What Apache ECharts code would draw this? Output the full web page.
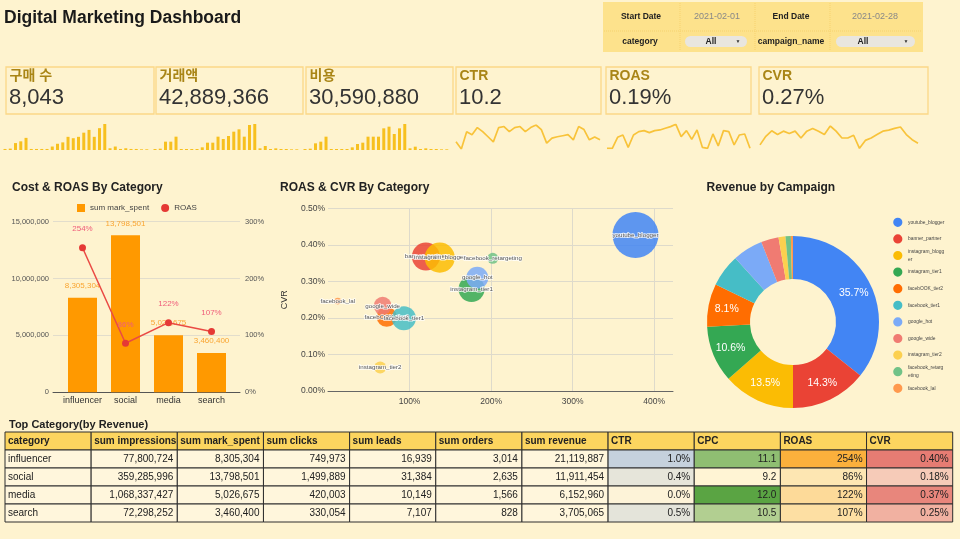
<!DOCTYPE html>
<html><head><meta charset="utf-8">
<script src="https://cdn.jsdelivr.net/npm/echarts@6/dist/echarts.min.js"></script>
<style>html,body{margin:0;padding:0;background:#fef3cf;}#c{width:960px;height:539px;}</style>
</head><body><div id="c"></div>
<script>
// ---------------- DATA ----------------
const kpiLabels = ['구매 수', '거래액', '비용', 'CTR', 'ROAS', 'CVR'];
const kpiValues = ['8,043', '42,889,366', '30,590,880', '10.2', '0.19%', '0.27%'];

// daily trends (Feb 1 - Feb 28)
const dailyOrders  = [42, 56, 280, 350, 490, 42, 42, 42, 42, 140, 252, 308, 532, 476, 532, 700, 812, 532, 882, 1050, 70, 140, 42, 70, 42, 42, 28, 28];
const dailyRevenue = [207000, 276000, 1727000, 1727000, 2763000, 207000, 207000, 207000, 207000, 553000, 1519000, 1519000, 2763000, 2279000, 2901000, 3799000, 4282000, 2763000, 5180000, 5387000, 345000, 829000, 207000, 345000, 207000, 207000, 138000, 138000];
const dailyCost    = [145500, 194000, 970000, 1212500, 1940000, 145500, 145500, 145500, 145500, 388000, 873000, 1067000, 1940000, 1940000, 1940000, 3152500, 3395000, 2328000, 3152500, 3783000, 242500, 485000, 145500, 242500, 145500, 145500, 97000, 97000];
const dailyCtr     = [8, 1, 18, 15, 22, 18, 13, 8, 22, 23, 18, 22, 23, 18, 22, 24.5, 20, 6.7, 11.7, 13, 14, 15, 10, 23, 20, 10, 12.7, 10];
const dailyRoas    = [5, 5, 38, 45, 8, 45, 55, 58, 52, 58, 60, 65, 70, 77, 40, 58, 32, 60, 8, 5, 48, 12, 58, 55, 15, 45, 48, 5];
const dailyCvr     = [15, 40, 56, 45, 55, 48, 55, 35, 55, 63, 55, 45, 70, 55, 35, 35, 43, 5, 28, 35, 45, 55, 58, 63, 67, 45, 30, 20];

// by category
const categories  = ['influencer', 'social', 'media', 'search'];
const impressions = [77800724, 359285996, 1068337427, 72298252];
const markSpent   = [8305304, 13798501, 5026675, 3460400];
const clicks      = [749973, 1499889, 420003, 330054];
const leads       = [16939, 31384, 10149, 7107];
const orders      = [3014, 2635, 1566, 828];
const revenue     = [21119887, 11911454, 6152960, 3705065];

// by campaign
const campaigns       = ['youtube_blogger', 'banner_partner', 'instagram_blogger', 'instagram_tier1', 'facebOOK_tier2', 'facebook_tier1', 'google_hot', 'google_wide', 'instagram_tier2', 'facebook_retargeting', 'facebook_lal'];
const campaignRevenue = [15311504, 6133179, 5790064, 4546273, 3474039, 2616251, 2444694, 1415349, 557562, 428894, 171557];
const campaignRoas    = [3.77, 1.20, 1.37, 1.76, 0.72, 0.93, 1.83, 0.67, 0.64, 2.02, 0.12];
const campaignCvr     = [0.427, 0.368, 0.365, 0.279, 0.203, 0.199, 0.310, 0.233, 0.064, 0.363, 0.246];
const campaignOrders  = [1363, 749, 818, 681, 477, 613, 545, 409, 204, 170, 20];

const tableHeaders = ['category', 'sum impressions', 'sum mark_spent', 'sum clicks', 'sum leads', 'sum orders', 'sum revenue', 'CTR', 'CPC', 'ROAS', 'CVR'];

// ---------------- STYLE ----------------
const FF = '"Liberation Sans", "Noto Sans CJK KR", Arial, sans-serif';
const BG = '#fef3cf';
const campaignColors = ['#4285f4', '#ea4335', '#fbbc04', '#34a853', '#ff6d01', '#46bdc6', '#7baaf7', '#f07b72', '#fcd04f', '#71c287', '#ff994d'];
const fmt = n => n.toLocaleString('en-US');

function hex(c){return [parseInt(c.slice(1,3),16),parseInt(c.slice(3,5),16),parseInt(c.slice(5,7),16)];}
function lerp(a,b,t){const A=hex(a),B=hex(b);return 'rgb('+A.map((v,i)=>Math.round(v+(B[i]-v)*t)).join(',')+')';}
function scaleColor(arr,i,c0,c1){const mn=Math.min(...arr),mx=Math.max(...arr);return lerp(c0,c1,(arr[i]-mn)/(mx-mn));}

// ---------------- GRAPHIC (texts / panels) ----------------
const G = [];
const txt = (x,y,text,font,fill,align,va,extra) => ({type:'text', x:x, y:y, silent:true, style:Object.assign({text:text, font:font, fill:fill, align:align||'left', verticalAlign:va||'middle'}, extra||{})});
G.push(txt(4, 18, 'Digital Marketing Dashboard', 'bold 17.5px ' + FF, '#1a1a1a'));

// filter panel
G.push({type:'rect', shape:{x:603, y:2, width:320, height:50}, style:{fill:'#fde28c'}});
[680, 755, 830].forEach(x => G.push({type:'line', shape:{x1:x, y1:3, x2:x, y2:51}, style:{stroke:'#f6d26f', lineWidth:1, lineDash:[1,1]}}));
G.push({type:'line', shape:{x1:604, y1:31, x2:922, y2:31}, style:{stroke:'#f6d26f', lineWidth:1, lineDash:[1,1]}});
G.push(txt(641, 17, 'Start Date', 'bold 8.5px ' + FF, '#222', 'center'));
G.push(txt(717, 17, '2021-02-01', '9px ' + FF, '#888', 'center'));
G.push(txt(791, 17, 'End Date', 'bold 8.5px ' + FF, '#222', 'center'));
G.push(txt(875, 17, '2021-02-28', '9px ' + FF, '#888', 'center'));
G.push(txt(640, 42, 'category', 'bold 8.5px ' + FF, '#222', 'center'));
G.push(txt(791, 42, 'campaign_name', 'bold 8.5px ' + FF, '#222', 'center'));
G.push({type:'rect', shape:{x:685, y:36, width:62, height:11, r:5.5}, style:{fill:'#e9e6df'}});
G.push(txt(711, 42, 'All', 'bold 8.5px ' + FF, '#222', 'center'));
G.push(txt(738, 41.5, '▼', '5px ' + FF, '#333', 'center'));
G.push({type:'rect', shape:{x:836, y:36, width:79, height:11, r:5.5}, style:{fill:'#e9e6df'}});
G.push(txt(863, 42, 'All', 'bold 8.5px ' + FF, '#222', 'center'));
G.push(txt(906, 41.5, '▼', '5px ' + FF, '#333', 'center'));

// KPI cards
const cardX = [6, 156, 306, 456, 606, 759];
const cardW = [148, 147, 147, 145, 145, 169];
kpiLabels.forEach((lab, i) => {
  G.push({type:'rect', shape:{x:cardX[i], y:67, width:cardW[i], height:47}, style:{fill:'none', stroke:'#fbd888', lineWidth:1.3}});
  G.push(txt(cardX[i] + 3.5, 76.5, lab, 'bold 14px ' + FF, '#a98516'));
  G.push(txt(cardX[i] + 3, 98, kpiValues[i], '22px ' + FF, '#333'));
});

// section titles
G.push(txt(12, 187.5, 'Cost & ROAS By Category', 'bold 12px ' + FF, '#222'));
G.push(txt(280, 187.5, 'ROAS & CVR By Category', 'bold 12px ' + FF, '#222'));
G.push(txt(706.5, 187.5, 'Revenue by Campaign', 'bold 12px ' + FF, '#222'));
G.push(txt(9, 424.5, 'Top Category(by Revenue)', 'bold 11px ' + FF, '#222'));

// pie legend (vertical list with uniform row pitch)
campaigns.forEach((n, i) => {
  const y = 222.3 + i * 16.6;
  G.push({type:'circle', silent:true, shape:{cx:897.8, cy:y, r:4.6}, style:{fill:campaignColors[i]}});
  const label = n.length > 15 ? n.slice(0, 15) + '\n' + n.slice(15) : n;
  G.push(txt(908, y, label, '4.9px ' + FF, '#444', 'left', 'middle', {lineHeight:8.5}));
});

// ---------------- TABLE CELLS ----------------
const HEADER = '#fcd55f', PLAIN = '#fff6dc';
const ctrArr = clicks.map((c,i) => c / impressions[i] * 100);
const cpcArr = markSpent.map((s,i) => s / clicks[i]);
const roasArr = revenue.map((r,i) => r / markSpent[i]);
const cvrArr = orders.map((o,i) => o / clicks[i] * 100);
const cells = [];
tableHeaders.forEach((h,c) => cells.push({value:[c,0], text:h, fill:HEADER, align:'left', bold:true}));
categories.forEach((cat,i) => {
  const r = i + 1;
  cells.push({value:[0,r], text:cat, fill:PLAIN, align:'left'});
  [impressions, markSpent, clicks, leads, orders, revenue].forEach((arr,k) => cells.push({value:[k+1,r], text:fmt(arr[i]), fill:PLAIN, align:'right'}));
  cells.push({value:[7,r], text:ctrArr[i].toFixed(1)+'%', fill:scaleColor(ctrArr,i,'#fdf3d8','#c5d1dd'), align:'right'});
  cells.push({value:[8,r], text:cpcArr[i].toFixed(1), fill:scaleColor(cpcArr,i,'#fff4d4','#5aa443'), align:'right'});
  cells.push({value:[9,r], text:Math.round(roasArr[i]*100)+'%', fill:scaleColor(roasArr,i,'#fde6b2','#fbb03c'), align:'right'});
  cells.push({value:[10,r], text:cvrArr[i].toFixed(2)+'%', fill:scaleColor(cvrArr,i,'#f6cbb8','#e67c73'), align:'right'});
});

// ---------------- AXES / GRIDS ----------------
const grids = [
  {left:2.4, top:124, width:147, height:26},
  {left:152.4, top:124, width:147, height:26},
  {left:302.4, top:124, width:147, height:26},
  {left:456, top:125, width:144, height:24},
  {left:607, top:124.3, width:143, height:24},
  {left:760, top:126, width:158, height:22.3},
  {left:53, top:221.7, width:187, height:170.6},
  {left:61, top:221.7, width:172, height:170.6},
  {left:328, top:208.3, width:345, height:182.7},
  {left:5, top:432, width:947.7, height:90}
].map(g => Object.assign({outerBoundsMode:'none', containLabel:false}, g));

const days = dailyOrders.map((_,i) => i + 1);
const hidden = {show:false};
const xAxes = [], yAxes = [];
for (let i = 0; i < 6; i++) {
  xAxes.push({type:'category', gridIndex:i, data:days, show:false, boundaryGap: i < 3});
  yAxes.push({type:'value', gridIndex:i, show:false, min: i < 3 ? 0 : 'dataMin', max:'dataMax', splitLine:hidden});
}
// x6 / y6,y7 : cost background grid
xAxes.push({type:'category', gridIndex:6, data:categories, axisLine:{lineStyle:{color:'#555', width:1}}, axisTick:hidden, axisLabel:hidden, splitLine:hidden});
yAxes.push({type:'value', gridIndex:6, min:0, max:15000000, interval:5000000, axisLine:hidden, axisTick:hidden,
  axisLabel:{fontSize:7.5, color:'#555', fontFamily:FF, margin:4, formatter:v => fmt(v)}, splitLine:{lineStyle:{color:'#e2ddcc', width:1}}});
yAxes.push({type:'value', gridIndex:6, position:'right', min:0, max:3, interval:1, axisLine:hidden, axisTick:hidden,
  axisLabel:{fontSize:7.5, color:'#555', fontFamily:FF, margin:5, formatter:v => Math.round(v*100)+'%'}, splitLine:hidden});
// x7 / y8,y9 : cost series grid
xAxes.push({type:'category', gridIndex:7, data:categories, axisLine:hidden, axisTick:hidden,
  axisLabel:{interval:0, hideOverlap:false, fontSize:9, color:'#333', fontFamily:FF, margin:4}, splitLine:hidden});
yAxes.push({type:'value', gridIndex:7, min:0, max:15000000, show:false, splitLine:hidden});
yAxes.push({type:'value', gridIndex:7, min:0, max:3, show:false, splitLine:hidden});
// x8 / y10 : bubble grid
const gl = '#dedacb';
xAxes.push({type:'value', gridIndex:8, min:0, max:4.23, interval:1, axisLine:{lineStyle:{color:'#666'}}, axisTick:hidden,
  axisLabel:{fontSize:8.5, color:'#444', fontFamily:FF, margin:6, showMaxLabel:false, formatter:v => (v > 0 && Math.abs(v - Math.round(v)) < 1e-9) ? Math.round(v*100)+'%' : ''},
  splitLine:{lineStyle:{color:['rgba(0,0,0,0)', gl, gl, gl, gl, 'rgba(0,0,0,0)']}}});
yAxes.push({type:'value', gridIndex:8, min:0, max:0.5, interval:0.1, axisLine:hidden, axisTick:hidden,
  name:'CVR', nameLocation:'middle', nameGap:39, nameTextStyle:{fontSize:9, color:'#333', fontFamily:FF},
  axisLabel:{fontSize:8.5, color:'#444', fontFamily:FF, margin:3, formatter:v => v.toFixed(2)+'%'}, splitLine:{lineStyle:{color:gl}}});
// x9 / y11 : table grid
xAxes.push({type:'category', gridIndex:9, data:tableHeaders.map((_,i)=>i), show:false});
yAxes.push({type:'category', gridIndex:9, data:[0,1,2,3,4], inverse:true, show:false});

// ---------------- SERIES ----------------
const BAR_GOLD = '#f7c01f', LINE_GOLD = '#f8c33a';
const series = [];
[dailyOrders, dailyRevenue, dailyCost].forEach((d,i) => series.push({type:'bar', xAxisIndex:i, yAxisIndex:i, data:d, barWidth:3, itemStyle:{color:BAR_GOLD}, silent:true}));
[dailyCtr, dailyRoas, dailyCvr].forEach((d,i) => series.push({type:'line', xAxisIndex:i+3, yAxisIndex:i+3, data:d, symbol:'none', lineStyle:{color:LINE_GOLD, width:1.7}, silent:true}));

series.push({name:'sum mark_spent', type:'bar', xAxisIndex:7, yAxisIndex:8, data:markSpent, barWidth:29, itemStyle:{color:'#ff9900'},
  label:{show:true, position:'top', distance:8, fontSize:8, color:'#f9a531', fontFamily:FF, formatter:p => fmt(p.value)}});
series.push({name:'ROAS', type:'line', xAxisIndex:7, yAxisIndex:9, data:roasArr, symbol:'circle', symbolSize:7,
  itemStyle:{color:'#e53935'}, lineStyle:{color:'#ea4a44', width:1.5},
  label:{show:true, position:'top', distance:11, fontSize:8, color:'#ef5c7a', fontFamily:FF, formatter:p => Math.round(p.value*100)+'%'}});

const oMin = Math.min(...campaignOrders), oMax = Math.max(...campaignOrders);
series.push({type:'scatter', xAxisIndex:8, yAxisIndex:10,
  data: campaigns.map((n,i) => ({name:n, value:[campaignRoas[i], campaignCvr[i], campaignOrders[i]], itemStyle:{color:campaignColors[i], opacity:0.85}})),
  symbolSize: v => 2 * (3.3 + 19.7 * (v[2] - oMin) / (oMax - oMin)),
  label:{show:true, position:'inside', formatter:p => p.name, fontSize:6.2, color:'#333', fontFamily:FF, textBorderColor:'#fff', textBorderWidth:1.5},
  emphasis:{disabled:true}});

series.push({type:'pie', center:[793, 322], radius:[43, 86], startAngle:90, avoidLabelOverlap:false,
  data: campaigns.map((n,i) => ({name:n, value:campaignRevenue[i], itemStyle:{color:campaignColors[i]}})),
  label:{show:true, position:'inside', color:'#fff', fontSize:10.5, fontFamily:FF, formatter:p => p.percent >= 8 ? p.percent.toFixed(1)+'%' : ''},
  labelLine:{show:false}, emphasis:{disabled:true}});

series.push({type:'custom', xAxisIndex:9, yAxisIndex:11, data:cells.map(c => c.value), silent:true,
  renderItem: function(params, api){
    const cell = cells[params.dataIndex];
    const p = api.coord([api.value(0), api.value(1)]);
    const s = api.size([1, 1]);
    const x0 = p[0] - s[0]/2, y0 = p[1] - s[1]/2;
    return {type:'group', children:[
      {type:'rect', shape:{x:x0, y:y0, width:s[0], height:s[1]}, style:{fill:cell.fill, stroke:'#2e2e2e', lineWidth:1}},
      {type:'text', style:{text:cell.text, x: cell.align === 'right' ? x0 + s[0] - 4 : x0 + 3, y:p[1] + 0.5, align:cell.align, verticalAlign:'middle',
        fill:'#222', font:(cell.bold ? 'bold ' : '') + '10px ' + FF}}
    ]};
  }});

const chart = echarts.init(document.getElementById('c'), null, {renderer:'canvas', width:960, height:539});
chart.setOption({
  backgroundColor: BG,
  animation: false,
  grid: grids,
  xAxis: xAxes,
  yAxis: yAxes,
  legend: [
    {data:[{name:'sum mark_spent', icon:'rect'}, {name:'ROAS', icon:'circle'}], left:72, top:199, itemWidth:8, itemHeight:8, itemGap:12,
      textStyle:{fontSize:8, color:'#444', fontFamily:FF}, selectedMode:false}
  ],
  graphic: {elements: G},
  series: series
});
</script></body></html>
